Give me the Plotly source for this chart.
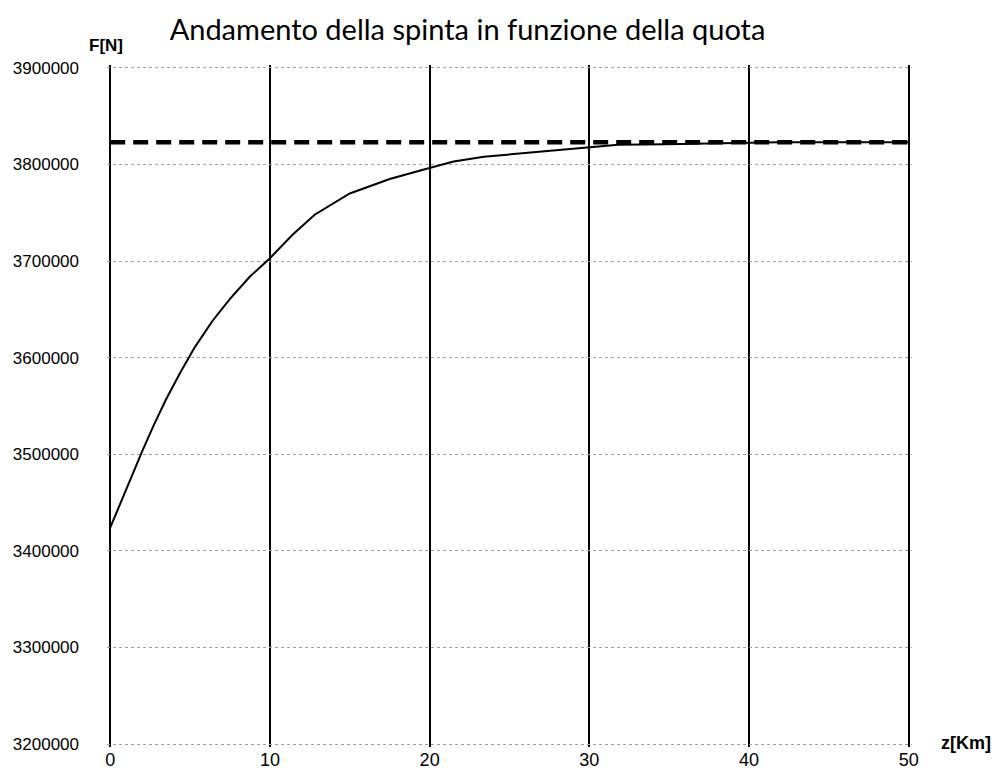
import plotly.graph_objects as go

# Quota (km) e spinta (N)
quota_km = [0, 1, 2, 2.75, 3.5, 4.4, 5.3, 6.4, 7.5, 8.75, 10, 11.4, 12.8, 15,
            17.5, 19.7, 21.5, 23.4, 27, 30, 31.8, 34.8, 38, 42, 46, 50]
spinta_N = [3424000, 3464000, 3503000, 3531000, 3557000, 3585000, 3611000,
            3638000, 3661000, 3684000, 3703000, 3727000, 3748000, 3770000,
            3785000, 3795000, 3803000, 3808000, 3813500, 3818000, 3820500,
            3821000, 3822000, 3823000, 3823000, 3823000]

# Spinta nel vuoto (asintoto)
spinta_vuoto_N = 3823000
quota_limiti = [0, 50]

x_ticks = [0, 10, 20, 30, 40, 50]
y_ticks = [3200000, 3300000, 3400000, 3500000, 3600000, 3700000, 3800000, 3900000]

fig = go.Figure()

fig.add_trace(go.Scatter(
    x=quota_limiti, y=[spinta_vuoto_N] * len(quota_limiti),
    mode="lines", line=dict(color="black", width=4.5, dash="15px,8px"),
    showlegend=False, hoverinfo="skip",
))

fig.add_trace(go.Scatter(
    x=quota_km, y=spinta_N, mode="lines",
    line=dict(color="black", width=2),
    showlegend=False,
))

# plot area slightly padded so the outermost grid lines stay visible
L, R, T, B = 107, 87, 65, 26

fig.update_layout(
    width=999, height=773,
    margin=dict(l=L, r=R, t=T, b=B),
    paper_bgcolor="white", plot_bgcolor="white",
    title=dict(
        text="Andamento della spinta in funzione della quota",
        x=0.468, xanchor="center", y=0.962, yanchor="middle",
        font=dict(family="Lato", size=29, color="black"),
    ),
    xaxis=dict(
        range=[-0.2, 50.2], tickvals=x_ticks, ticktext=[str(v) for v in x_ticks],
        showgrid=True, gridcolor="black", gridwidth=1.5,
        zeroline=False, showline=False, ticks="",
        ticklabelstandoff=0,
        tickfont=dict(family="Liberation Sans", size=18, color="black"),
        automargin=False,
    ),
    yaxis=dict(
        range=[3197000, 3903000], tickvals=y_ticks,
        ticktext=[str(v) for v in y_ticks],
        showgrid=True, gridcolor="#a0a0a0", gridwidth=1, griddash="dot",
        zeroline=False, showline=False, ticks="",
        ticklabelstandoff=27,
        tickfont=dict(family="Liberation Sans", size=17, color="black"),
        automargin=False,
    ),
    annotations=[
        dict(text="<b>F[N]</b>", x=106, y=45, xref="paper", yref="paper",
             showarrow=False, font=dict(family="Liberation Sans", size=17, color="black")),
        dict(text="<b>z[Km]</b>", x=966, y=743, xref="paper", yref="paper",
             showarrow=False, font=dict(family="Liberation Sans", size=18, color="black")),
    ],
)

# Annotation positions given in pixels -> convert to paper coordinates
pw = 999 - L - R
ph = 773 - T - B
for a in fig.layout.annotations:
    px, py = a.x, a.y
    a.x = (px - L) / pw
    a.y = 1 - (py - T) / ph
    a.xanchor = "center"
    a.yanchor = "middle"

fig.write_html("out.html")
